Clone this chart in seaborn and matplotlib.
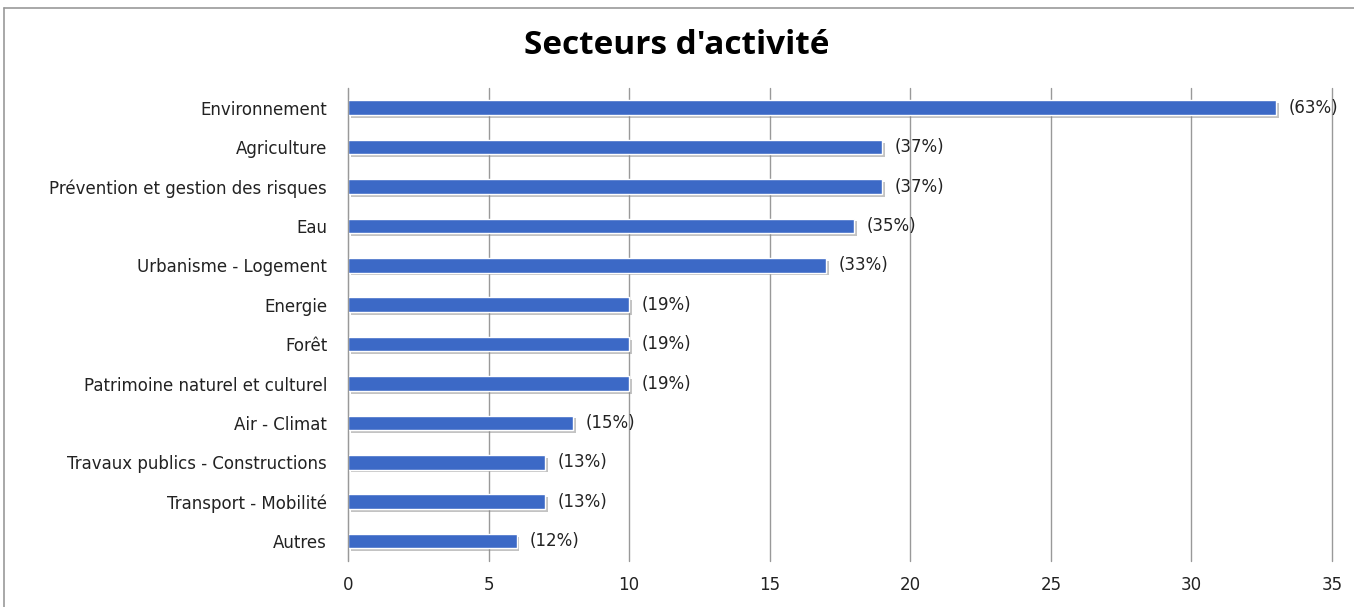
import matplotlib
matplotlib.use("Agg")
import matplotlib.pyplot as plt
import matplotlib.patheffects as pe
import pandas as pd
import seaborn as sns

sectors = ["Environnement", "Agriculture", "Prévention et gestion des risques", "Eau",
           "Urbanisme - Logement", "Energie", "Forêt", "Patrimoine naturel et culturel",
           "Air - Climat", "Travaux publics - Constructions", "Transport - Mobilité", "Autres"]
counts = [33, 19, 19, 18, 17, 10, 10, 10, 8, 7, 7, 6]
percents = ["(63%)", "(37%)", "(37%)", "(35%)", "(33%)", "(19%)", "(19%)", "(19%)",
            "(15%)", "(13%)", "(13%)", "(12%)"]
x_ticks = [0, 5, 10, 15, 20, 25, 30, 35]

df = pd.DataFrame({"secteur": sectors, "nombre": counts})

sns.set_style("white")
plt.rcParams["font.family"] = ["DejaVu Sans"]

fig = plt.figure(figsize=(13.54, 6.07), dpi=100)
ax = fig.add_axes([0.257, 0.076, 0.7268, 0.779])

sns.barplot(data=df, x="nombre", y="secteur", orient="h", color="#3C69C6",
            width=0.37, saturation=1, ax=ax)
for bar in ax.patches:
    bar.set_path_effects([pe.SimplePatchShadow(offset=(2, -2), shadow_rgbFace="#888888", alpha=0.5),
                          pe.Normal()])

for i, (v, p) in enumerate(zip(counts, percents)):
    ax.text(v + 0.45, i, p, va="center", ha="left", fontsize=12, color="#222222")

ax.set_xlim(0, 35)
ax.set_xticks(x_ticks)
ax.set_ylim(11.5, -0.5)
ax.xaxis.grid(True, color="#999999", linewidth=1)
for gl in ax.get_xgridlines():
    gl.set_clip_on(False)
ax.set_axisbelow(True)
for s in ["top", "right", "bottom"]:
    ax.spines[s].set_visible(False)
ax.spines["left"].set_color("#999999")
ax.tick_params(axis="x", length=0, pad=11, labelsize=12, labelcolor="#222222")
ax.tick_params(axis="y", length=0, pad=15, labelsize=12, labelcolor="#222222")
ax.set_xlabel("")
ax.set_ylabel("")

fig.text(0.5, 0.925, "Secteurs d'activité", ha="center", va="center", color="black",
         fontsize=24, fontweight="bold", family=["Open Sans", "DejaVu Sans"])

# outer chart frame
fig.add_artist(plt.Line2D([0.003, 1.0], [0.987, 0.987], color="#999999", linewidth=1.2,
                          transform=fig.transFigure))
fig.add_artist(plt.Line2D([0.003, 0.003], [0.0, 0.987], color="#999999", linewidth=1.2,
                          transform=fig.transFigure))

fig.savefig("out.png", dpi=100)
